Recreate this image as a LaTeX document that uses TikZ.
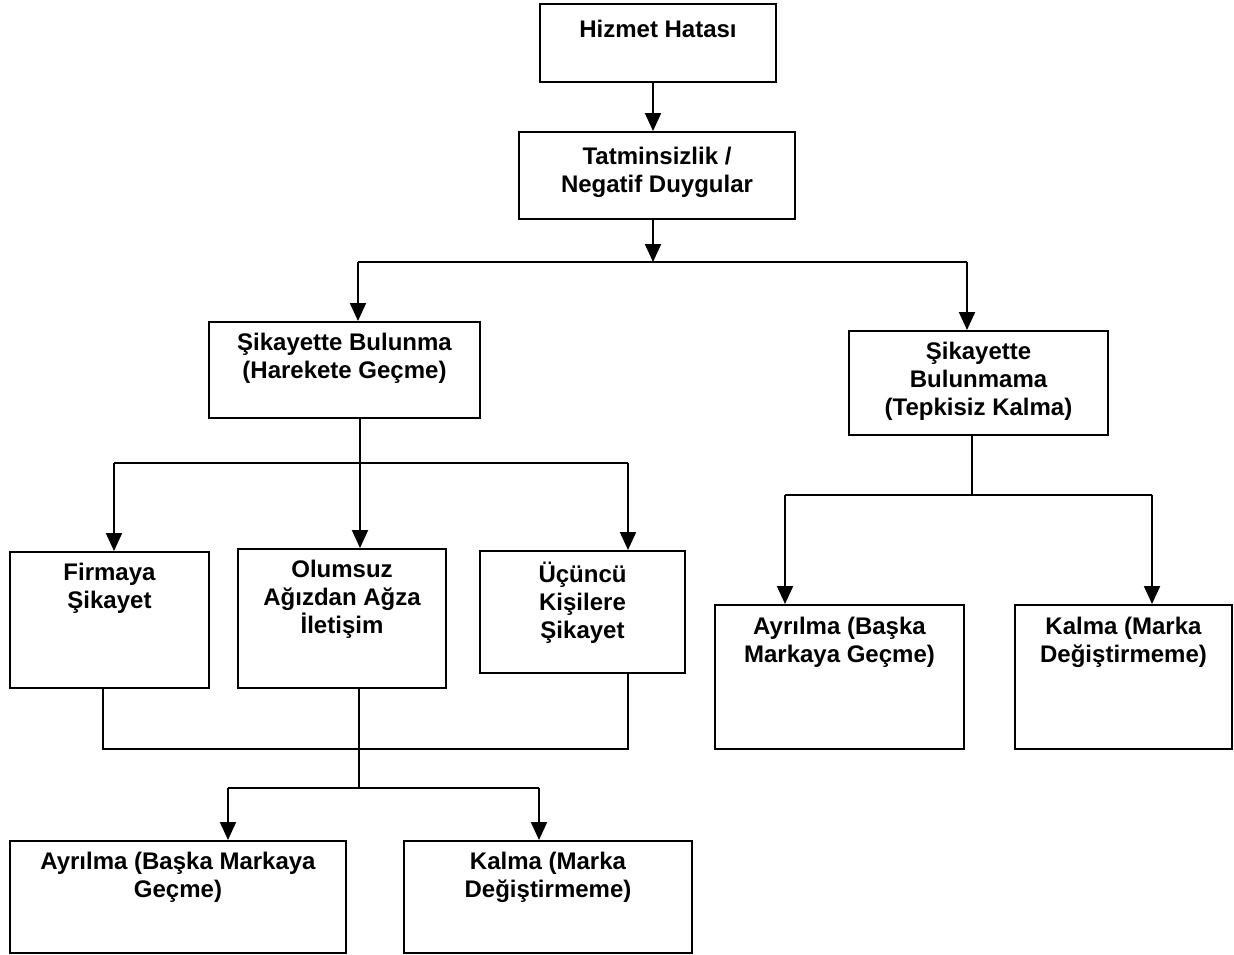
\documentclass[tikz,border=0pt]{standalone}
\usepackage{fontspec}
\setmainfont{Liberation Sans}
\usetikzlibrary{arrows.meta,positioning}

\begin{document}
\begin{tikzpicture}[x=0.5pt,y=-0.5pt]
\tikzset{
  box/.style={rectangle,draw,line width=1pt,inner sep=0pt,anchor=north west},
  boxtext/.style={anchor=north,inner sep=0pt,align=center,
    font=\fontsize{12}{14}\selectfont\bfseries,execute at begin node=\strut},
  directed/.style={-{Triangle[length=9pt,width=8pt]},line width=1pt},
  plain/.style={line width=1pt}
}
\useasboundingbox (0,0) rectangle (1234,954);
% boxes
\node[box,minimum width=118pt,minimum height=39pt] (n_hizmet) at (539,3) {};
\node[box,minimum width=138pt,minimum height=43.5pt] (n_tatmin) at (518,131) {};
\node[box,minimum width=135.5pt,minimum height=48pt] (n_bulunma) at (208,321) {};
\node[box,minimum width=129.5pt,minimum height=52pt] (n_bulunmama) at (848,330) {};
\node[box,minimum width=99.5pt,minimum height=68pt] (n_firma) at (9,551) {};
\node[box,minimum width=104pt,minimum height=69.5pt] (n_olumsuz) at (237,548) {};
\node[box,minimum width=102.5pt,minimum height=61pt] (n_ucuncu) at (479,550) {};
\node[box,minimum width=124.5pt,minimum height=72pt] (n_ayrilmaR) at (714,604) {};
\node[box,minimum width=108.5pt,minimum height=72pt] (n_kalmaR) at (1014,604) {};
\node[box,minimum width=168pt,minimum height=56pt] (n_ayrilmaL) at (9,840) {};
\node[box,minimum width=144pt,minimum height=56pt] (n_kalmaL) at (403,840) {};
% texts
\node[boxtext] (t_hizmet) at ([yshift=-7pt]n_hizmet.north) {Hizmet Hatası};
\node[boxtext] (t_tatmin) at ([yshift=-8pt]n_tatmin.north) {Tatminsizlik /\\Negatif Duygular};
\node[boxtext] (t_bulunma) at ([yshift=-6pt]n_bulunma.north) {Şikayette Bulunma\\(Harekete Geçme)};
\node[boxtext] (t_bulunmama) at ([yshift=-6pt]n_bulunmama.north) {Şikayette\\Bulunmama\\(Tepkisiz Kalma)};
\node[boxtext] (t_firma) at ([yshift=-6pt]n_firma.north) {Firmaya\\Şikayet};
\node[boxtext] (t_olumsuz) at ([yshift=-6pt]n_olumsuz.north) {Olumsuz\\Ağızdan Ağza\\İletişim};
\node[boxtext] (t_ucuncu) at ([yshift=-6pt]n_ucuncu.north) {Üçüncü\\Kişilere\\Şikayet};
\node[boxtext] (t_ayrilmaR) at ([yshift=-6.5pt]n_ayrilmaR.north) {Ayrılma (Başka\\Markaya Geçme)};
\node[boxtext] (t_kalmaR) at ([yshift=-6.5pt]n_kalmaR.north) {Kalma (Marka\\Değiştirmeme)};
\node[boxtext] (t_ayrilmaL) at ([yshift=-6pt]n_ayrilmaL.north) {Ayrılma (Başka Markaya\\Geçme)};
\node[boxtext] (t_kalmaL) at ([yshift=-6pt]n_kalmaL.north) {Kalma (Marka\\Değiştirmeme)};
% junctions
\coordinate (j_top) at (653,262);
\coordinate (j_left) at (358,262);
\coordinate (j_right) at (967,262);
\coordinate (k_mid) at (360,463);
\coordinate (k_left) at (114,463);
\coordinate (k_right) at (628,463);
\coordinate (m_left) at (103,749);
\coordinate (m_mid) at (359,749);
\coordinate (m_right) at (628,749);
\coordinate (p_mid) at (359,788);
\coordinate (p_left) at (228,788);
\coordinate (p_right) at (539,788);
\coordinate (q_mid) at (972,495);
\coordinate (q_left) at (785,495);
\coordinate (q_right) at (1152,495);
% connectors
\draw[directed] (j_top |- n_hizmet.south) -- (j_top |- n_tatmin.north);
\draw[directed] (j_top |- n_tatmin.south) -- (j_top);
\draw[plain] (j_left) -- (j_right);
\draw[directed] (j_left) -- (j_left |- n_bulunma.north);
\draw[directed] (j_right) -- (j_right |- n_bulunmama.north);
\draw[directed] (k_mid |- n_bulunma.south) -- (k_mid |- n_olumsuz.north);
\draw[plain] (k_left) -- (k_right);
\draw[directed] (k_left) -- (k_left |- n_firma.north);
\draw[directed] (k_right) -- (k_right |- n_ucuncu.north);
\draw[plain] (m_left |- n_firma.south) -- (m_left) -- (m_right) -- (m_right |- n_ucuncu.south);
\draw[plain] (m_mid |- n_olumsuz.south) -- (p_mid);
\draw[plain] (p_left) -- (p_right);
\draw[directed] (p_left) -- (p_left |- n_ayrilmaL.north);
\draw[directed] (p_right) -- (p_right |- n_kalmaL.north);
\draw[plain] (q_mid |- n_bulunmama.south) -- (q_mid);
\draw[plain] (q_left) -- (q_right);
\draw[directed] (q_left) -- (q_left |- n_ayrilmaR.north);
\draw[directed] (q_right) -- (q_right |- n_kalmaR.north);
\end{tikzpicture}
\end{document}
